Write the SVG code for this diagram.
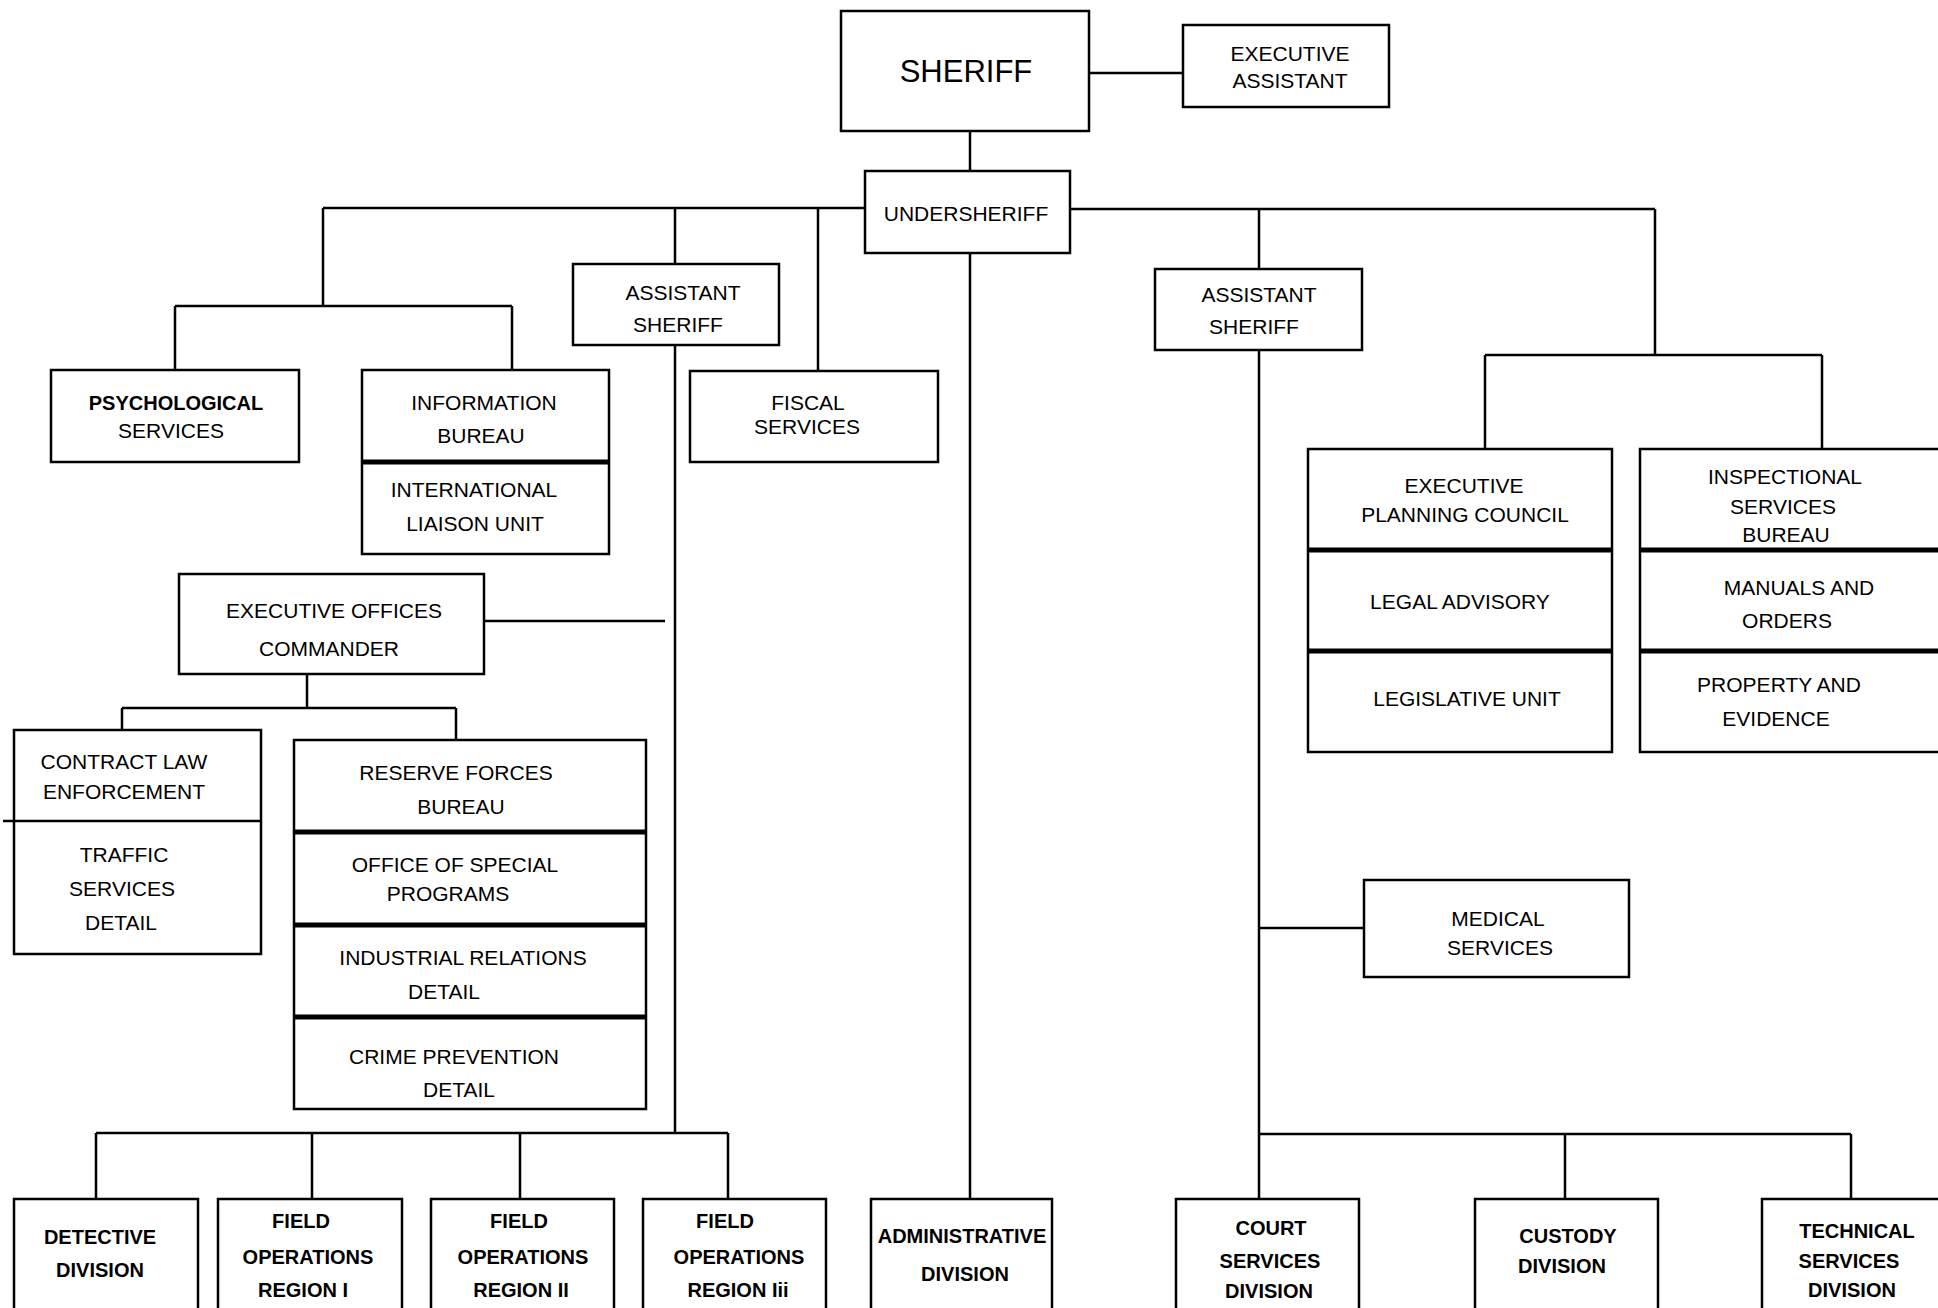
<svg xmlns="http://www.w3.org/2000/svg" width="1938" height="1308" viewBox="0 0 1938 1308">
<style>
.bx{fill:#fff;stroke:#000;stroke-width:2.5}
.dv{stroke:#000;stroke-width:5}
.ln{stroke:#000;stroke-width:2.5;fill:none}
.t{font-family:"Liberation Sans",Arial,sans-serif;font-size:21px;text-anchor:middle;fill:#000}
.b{font-weight:bold;font-size:20px}
.big{font-size:31px}
</style>
<rect width="1938" height="1308" fill="#fff"/>
<g id="connectors">
<path class="ln" d="M1089,73 H1183"/>
<path class="ln" d="M970,131 V171"/>
<path class="ln" d="M323,208 H865"/>
<path class="ln" d="M1070,209 H1655"/>
<path class="ln" d="M323,208 V306 M175,306 H512 M175,306 V370 M512,306 V370"/>
<path class="ln" d="M675,208 V264 M675,345 V1133"/>
<path class="ln" d="M818,208 V371"/>
<path class="ln" d="M484,621 H665"/>
<path class="ln" d="M307,674 V708 M122,708 H456 M122,708 V736 M456,708 V740"/>
<path class="ln" d="M96,1133 H728 M96,1133 V1199 M312,1133 V1199 M520,1133 V1199 M728,1133 V1199"/>
<path class="ln" d="M970,253 V1199"/>
<path class="ln" d="M1259,209 V269 M1259,350 V1199"/>
<path class="ln" d="M1259,928 H1364"/>
<path class="ln" d="M1259,1134 H1851 M1565,1134 V1199 M1851,1134 V1199"/>
<path class="ln" d="M1655,209 V355 M1485,355 H1822 M1485,355 V449 M1822,355 V449"/>
</g>
<g id="sheriff">
<rect class="bx" x="841" y="11" width="248" height="120"/>
<text class="t big" x="966" y="82">SHERIFF</text>
</g>
<g id="executive-assistant">
<rect class="bx" x="1183" y="25" width="206" height="82"/>
<text class="t" x="1290" y="61">EXECUTIVE</text>
<text class="t" x="1290" y="88">ASSISTANT</text>
</g>
<g id="undersheriff">
<rect class="bx" x="865" y="171" width="205" height="82"/>
<text class="t" x="966" y="221">UNDERSHERIFF</text>
</g>
<g id="assistant-sheriff-left">
<rect class="bx" x="573" y="264" width="206" height="81"/>
<text class="t" x="683" y="300">ASSISTANT</text>
<text class="t" x="678" y="332">SHERIFF</text>
</g>
<g id="assistant-sheriff-right">
<rect class="bx" x="1155" y="269" width="207" height="81"/>
<text class="t" x="1259" y="302">ASSISTANT</text>
<text class="t" x="1254" y="334">SHERIFF</text>
</g>
<g id="psychological-services">
<rect class="bx" x="51" y="370" width="248" height="92"/>
<text class="t b" x="176" y="410">PSYCHOLOGICAL</text>
<text class="t" x="171" y="438">SERVICES</text>
</g>
<g id="information-bureau">
<rect class="bx" x="362" y="370" width="247" height="184"/>
<line class="dv" x1="362" y1="462" x2="609" y2="462"/>
<text class="t" x="484" y="410">INFORMATION</text>
<text class="t" x="481" y="443">BUREAU</text>
<text class="t" x="474" y="497">INTERNATIONAL</text>
<text class="t" x="475" y="531">LIAISON  UNIT</text>
</g>
<g id="fiscal-services">
<rect class="bx" x="690" y="371" width="248" height="91"/>
<text class="t" x="808" y="410">FISCAL</text>
<text class="t" x="807" y="434">SERVICES</text>
</g>
<g id="executive-offices-commander">
<rect class="bx" x="179" y="574" width="305" height="100"/>
<text class="t" x="334" y="618">EXECUTIVE  OFFICES</text>
<text class="t" x="329" y="656">COMMANDER</text>
</g>
<g id="contract-law-enforcement">
<rect class="bx" x="14" y="730" width="247" height="224"/>
<line class="ln" x1="3" y1="821" x2="261" y2="821"/>
<text class="t" x="124" y="769">CONTRACT  LAW</text>
<text class="t" x="124" y="799">ENFORCEMENT</text>
<text class="t" x="124" y="862">TRAFFIC</text>
<text class="t" x="122" y="896">SERVICES</text>
<text class="t" x="121" y="930">DETAIL</text>
</g>
<g id="reserve-forces-bureau">
<rect class="bx" x="294" y="740" width="352" height="369"/>
<line class="dv" x1="294" y1="832" x2="646" y2="832"/>
<line class="dv" x1="294" y1="925" x2="646" y2="925"/>
<line class="dv" x1="294" y1="1017" x2="646" y2="1017"/>
<text class="t" x="456" y="780">RESERVE  FORCES</text>
<text class="t" x="461" y="814">BUREAU</text>
<text class="t" x="455" y="872">OFFICE  OF  SPECIAL</text>
<text class="t" x="448" y="901">PROGRAMS</text>
<text class="t" x="463" y="965">INDUSTRIAL  RELATIONS</text>
<text class="t" x="444" y="999">DETAIL</text>
<text class="t" x="454" y="1064">CRIME  PREVENTION</text>
<text class="t" x="459" y="1097">DETAIL</text>
</g>
<g id="executive-planning-council">
<rect class="bx" x="1308" y="449" width="304" height="303"/>
<line class="dv" x1="1308" y1="550" x2="1612" y2="550"/>
<line class="dv" x1="1308" y1="651" x2="1612" y2="651"/>
<text class="t" x="1464" y="493">EXECUTIVE</text>
<text class="t" x="1465" y="522">PLANNING  COUNCIL</text>
<text class="t" x="1460" y="609">LEGAL  ADVISORY</text>
<text class="t" x="1467" y="706">LEGISLATIVE  UNIT</text>
</g>
<g id="inspectional-services-bureau">
<rect class="bx" x="1640" y="449" width="310" height="303"/>
<line class="dv" x1="1640" y1="550" x2="1950" y2="550"/>
<line class="dv" x1="1640" y1="651" x2="1950" y2="651"/>
<text class="t" x="1785" y="484">INSPECTIONAL</text>
<text class="t" x="1783" y="514">SERVICES</text>
<text class="t" x="1786" y="542">BUREAU</text>
<text class="t" x="1799" y="595">MANUALS  AND</text>
<text class="t" x="1787" y="628">ORDERS</text>
<text class="t" x="1779" y="692">PROPERTY  AND</text>
<text class="t" x="1776" y="726">EVIDENCE</text>
</g>
<g id="medical-services">
<rect class="bx" x="1364" y="880" width="265" height="97"/>
<text class="t" x="1498" y="926">MEDICAL</text>
<text class="t" x="1500" y="955">SERVICES</text>
</g>
<g id="detective-division">
<rect class="bx" x="14" y="1199" width="184" height="125"/>
<text class="t b" x="100" y="1244">DETECTIVE</text>
<text class="t b" x="100" y="1277">DIVISION</text>
</g>
<g id="field-operations-region-1">
<rect class="bx" x="218" y="1199" width="184" height="125"/>
<text class="t b" x="301" y="1228">FIELD</text>
<text class="t b" x="308" y="1264">OPERATIONS</text>
<text class="t b" x="303" y="1297">REGION  I</text>
</g>
<g id="field-operations-region-2">
<rect class="bx" x="431" y="1199" width="183" height="125"/>
<text class="t b" x="519" y="1228">FIELD</text>
<text class="t b" x="523" y="1264">OPERATIONS</text>
<text class="t b" x="521" y="1297">REGION  II</text>
</g>
<g id="field-operations-region-3">
<rect class="bx" x="643" y="1199" width="183" height="125"/>
<text class="t b" x="725" y="1228">FIELD</text>
<text class="t b" x="739" y="1264">OPERATIONS</text>
<text class="t b" x="738" y="1297">REGION  Iii</text>
</g>
<g id="administrative-division">
<rect class="bx" x="871" y="1199" width="181" height="125"/>
<text class="t b" x="962" y="1243">ADMINISTRATIVE</text>
<text class="t b" x="965" y="1281">DIVISION</text>
</g>
<g id="court-services-division">
<rect class="bx" x="1176" y="1199" width="183" height="125"/>
<text class="t b" x="1271" y="1235">COURT</text>
<text class="t b" x="1270" y="1268">SERVICES</text>
<text class="t b" x="1269" y="1298">DIVISION</text>
</g>
<g id="custody-division">
<rect class="bx" x="1475" y="1199" width="183" height="125"/>
<text class="t b" x="1568" y="1243">CUSTODY</text>
<text class="t b" x="1562" y="1273">DIVISION</text>
</g>
<g id="technical-services-division">
<rect class="bx" x="1762" y="1199" width="190" height="125"/>
<text class="t b" x="1857" y="1238">TECHNICAL</text>
<text class="t b" x="1849" y="1268">SERVICES</text>
<text class="t b" x="1852" y="1297">DIVISION</text>
</g>
</svg>
